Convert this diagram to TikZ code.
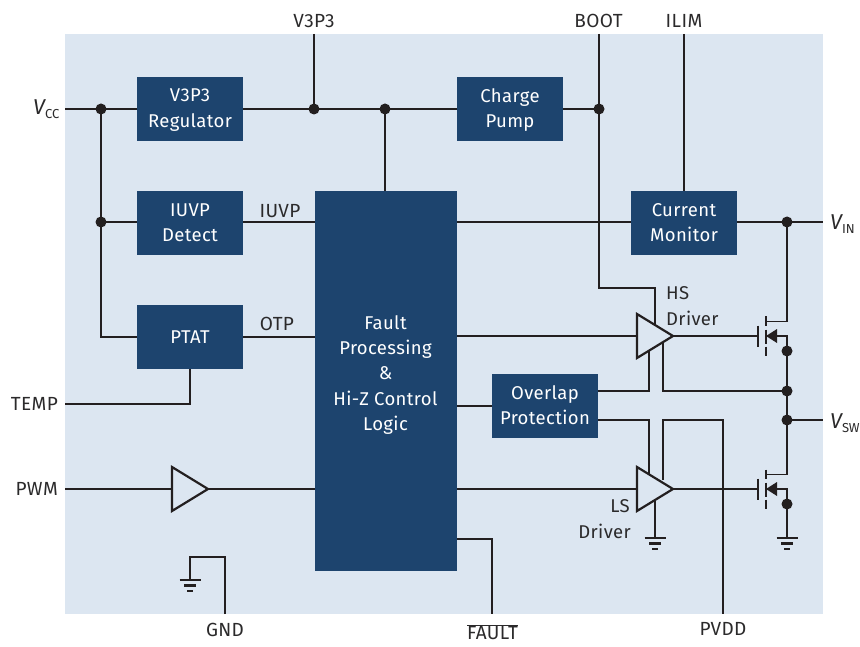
\documentclass[tikz,border=0pt]{standalone}
\usepackage{fontspec}
\setmainfont{Fira Sans}[LetterSpace=2]
\usetikzlibrary{calc}
\definecolor{panelc}{HTML}{DCE6F1}
\definecolor{blockc}{HTML}{1D446E}
\definecolor{inkc}{HTML}{231F20}
\definecolor{textc}{HTML}{2B2A2B}
\tikzset{
  wire/.style={draw=inkc,line width=1.7pt},
  tri/.style={draw=inkc,line width=2.2pt,line join=miter,fill=panelc},
  block/.style={fill=blockc,draw=none,text=white,align=center,inner sep=0pt,font=\fontsize{18.5}{25}\selectfont,minimum width=106pt,minimum height=64pt},
  blocktext/.style={text=white,align=center,inner sep=0pt,font=\fontsize{18.5}{25.2}\selectfont},
  lbl/.style={text=textc,inner sep=0pt,font=\fontsize{19}{25}\selectfont,align=center},
  lbls/.style={text=textc,inner sep=0pt,font=\fontsize{18.5}{25}\selectfont,align=center},
  dot/.style={circle,fill=inkc,draw=none,inner sep=0pt,minimum size=11pt},
  gbar/.style={draw=inkc,line width=2.2pt},
  chan/.style={draw=inkc,line width=2.2pt}
}
\newcommand{\gndsym}[1]{%
  \draw[gbar] ($(#1)+(-10.5,0)$) -- ($(#1)+(10.5,0)$);
  \draw[gbar] ($(#1)+(-6,5.5)$) -- ($(#1)+(6,5.5)$);
  \draw[gbar] ($(#1)+(-3,11)$) -- ($(#1)+(3,11)$);
}
\newcommand{\mosfet}[2]{% name, (gate line x, mid y)
  \coordinate (#1c) at (#2);
  \draw[chan] ($(#1c)+(0,-10.5)$) -- ($(#1c)+(0,10.5)$);
  \draw[chan] ($(#1c)+(8,-19.5)$) -- ($(#1c)+(8,-10.5)$);
  \draw[chan] ($(#1c)+(8,-6.5)$) -- ($(#1c)+(8,7.5)$);
  \draw[chan] ($(#1c)+(8,10.5)$) -- ($(#1c)+(8,19.5)$);
  \fill[inkc] ($(#1c)+(8,0)$) -- ($(#1c)+(19,-7)$) -- ($(#1c)+(19,7)$) -- cycle;
  \coordinate (#1d) at ($(#1c)+(8,-14.5)$);
  \coordinate (#1m) at ($(#1c)+(8,0)$);
  \coordinate (#1s) at ($(#1c)+(8,14.5)$);
}
\begin{document}
\begin{tikzpicture}[x=1pt,y=-1pt]
\useasboundingbox (0,0) rectangle (860,647);
\fill[panelc] (65,34) rectangle (823,614);
% border coordinates
\coordinate (vccin) at (65,109);
\coordinate (v3top) at (314,34);
\coordinate (boottop) at (599,34);
\coordinate (ilimtop) at (684,34);
\coordinate (vinout) at (823,222);
\coordinate (vswout) at (823,420);
\coordinate (tempin) at (65,404);
\coordinate (pwmin) at (65,489);
\coordinate (gndb) at (225,614);
\coordinate (faultb) at (492,614);
\coordinate (pvddb) at (723,614);
% blocks
\node[block] (vreg) at (190,109) {};
\node[blocktext] at (190,110) {V3P3\\Regulator};
\node[block] (pump) at (510,109) {};
\node[blocktext] at (510,110) {Charge\\Pump};
\node[block] (iuvp) at (190,223) {IUVP\\Detect};
\node[block] (mon) at (684,223) {Current\\Monitor};
\node[block] (ptat) at (190,337) {PTAT};
\node[block] (ovl) at (545,406) {};
\node[blocktext] at (545,405) {Overlap\\Protection};
\node[block,minimum width=142pt,minimum height=380pt] (fault) at (386,381) {};
\node[blocktext] at (385.5,375) {Fault\\Processing\\\&\\Hi-Z Control\\Logic};
% junctions
\coordinate (j1) at (101,109);
\coordinate (j2) at (101,222);
\coordinate (j3) at (314,109);
\coordinate (j4) at (385,109);
\coordinate (j5) at (599,109);
\coordinate (j6) at (787,222);
\coordinate (j7) at (787,351);
\coordinate (j8) at (787,391);
\coordinate (j9) at (787,420);
\coordinate (j10) at (787,504);
% mosfets
\mosfet{hs}{758,336}
\mosfet{ls}{758,489}
% wires
\draw[wire] (vccin) -- (vreg.west |- vccin);
\draw[wire] (j1) -- (101,337) -- (ptat.west);
\draw[wire] (j2) -- (iuvp.west |- j2);
\draw[wire] (vreg.east) -- (pump.west);
\draw[wire] (v3top) -- (j3);
\draw[wire] (j4) -- (j4 |- fault.north);
\draw[wire] (pump.east) -- (j5);
\draw[wire] (boottop) -- (599,288) -- (655,288) -- (655,326);
\draw[wire] (ilimtop) -- (mon.north);
\draw[wire] (iuvp.east |- j2) -- (fault.west |- j2);
\draw[wire] (fault.east |- j2) -- (mon.west |- j2);
\draw[wire] (mon.east |- j6) -- (vinout);
\draw[wire] (j6) -- (hsd -| j6) -- (hsd);
\draw[wire] (hsm) -- (787,336) -- (j7) -- (j10 |- lsd) -- (lsd);
\draw[wire] (lsm) -- (787,489) -- (j10) -- (787,538);
\draw[wire] (j9) -- (vswout);
\draw[wire] (ptat.east) -- (fault.west |- ptat.east);
\draw[wire] (tempin) -- (190,404) -- (ptat.south);
\draw[wire] (fault.east |- hsc) -- (hsc);
\draw[wire] (fault.east |- ovl.west) -- (ovl.west);
\draw[wire] (pwmin) -- (fault.west |- pwmin);
\draw[wire] (fault.east |- lsc) -- (lsc);
\draw[wire] (fault.east |- 0,539) -- (492,539) -- (faultb);
\draw[wire] (gndb) -- (225,557) -- (190,557) -- (190,580);
\draw[wire] (j8) -- (663,391) -- (663,340);
\draw[wire] (ovl.east |- 0,391) -- (649,391) -- (649,350);
\draw[wire] (ovl.east |- 0,420) -- (649,420) -- (649,478);
\draw[wire] (663,480) -- (663,420) -- (723,420) -- (pvddb);
\draw[wire] (655,500) -- (655,538);
% triangles
\draw[tri] (637,314) -- (673,336) -- (637,358) -- cycle;
\draw[tri] (637,467) -- (673,489) -- (637,511) -- cycle;
\draw[tri] (172,467) -- (208,489) -- (172,511) -- cycle;
% grounds
\gndsym{655,538}
\gndsym{787,538}
\gndsym{190,580}
% dots
\foreach \j in {j1,j2,j3,j4,j5,j6,j7,j8,j9,j10} \node[dot] at (\j) {};
% labels
\node[lbl] (l1) at (314,21) {V3P3};
\node[lbl] (l2) at (598.5,21) {BOOT};
\node[lbl] (l3) at (684,21) {ILIM};
\node[lbl,anchor=east] (l4) at (58,404) {TEMP};
\node[lbl,anchor=east] (l5) at (58,489) {PWM};
\node[lbl] (l6) at (225,630) {GND};
\node[lbl] (l7) at (492.5,632.5) {$\overline{\hbox{FAULT}}$};
\node[lbl] (l8) at (723,629) {PVDD};
\node[lbl] (l9) at (280,211) {IUVP};
\node[lbl] (l10) at (277,324) {OTP};
\node[lbls,anchor=west] (l11) at (666,293) {HS};
\node[lbls,anchor=west] (l12) at (666,318) {Driver};
\node[lbls,anchor=east] (l13) at (630,506) {LS};
\node[lbls,anchor=east] (l14) at (631,531) {Driver};
\node[lbl,anchor=base west] (l15) at (33,115) {\fontsize{21.5}{22}\fontspec{Fira Sans Italic}V\raisebox{-4pt}{\fontspec{Fira Sans}\fontsize{13}{13}\selectfont CC}};
\node[lbl,anchor=base west] (l16) at (830,230) {\fontsize{21.5}{22}\fontspec{Fira Sans Italic}V\raisebox{-4pt}{\fontspec{Fira Sans}\fontsize{13}{13}\selectfont IN}};
\node[lbl,anchor=base west] (l17) at (830,428) {\fontsize{21.5}{22}\fontspec{Fira Sans Italic}V\raisebox{-4pt}{\fontspec{Fira Sans}\fontsize{13}{13}\selectfont SW}};
\end{tikzpicture}
\end{document}
